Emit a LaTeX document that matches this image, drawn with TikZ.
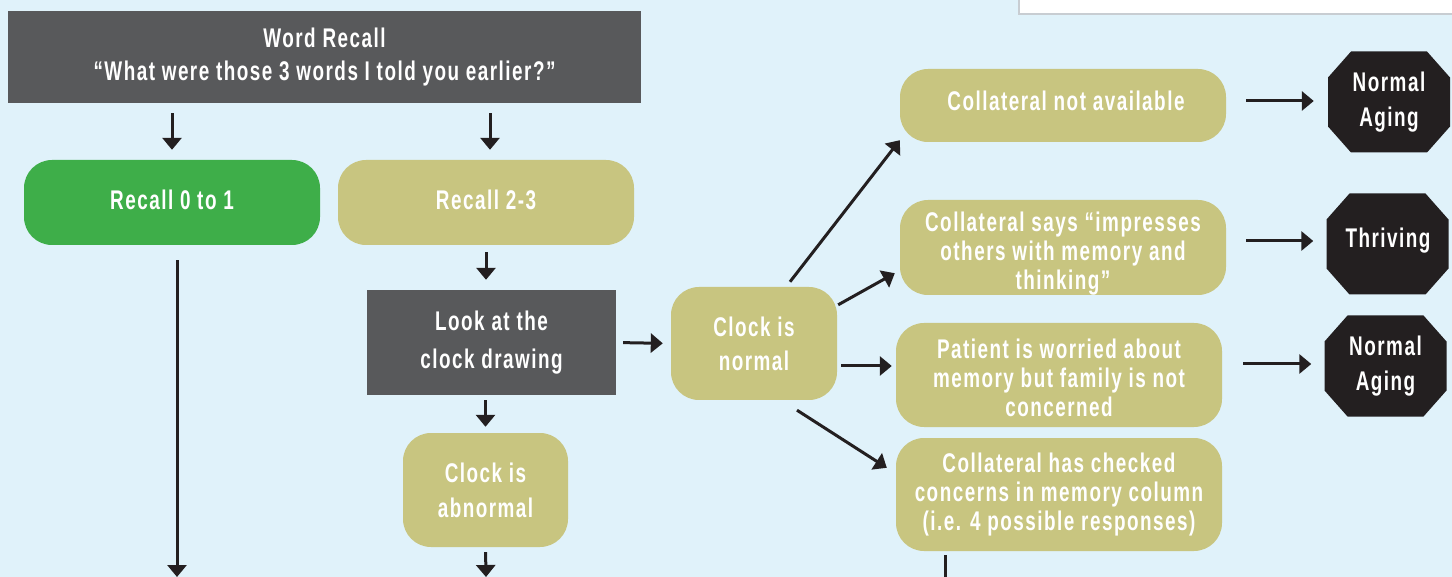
\documentclass[tikz,border=0pt]{standalone}
\usepackage{fontspec}
\setmainfont{Liberation Sans}[FakeStretch=0.7,LetterSpace=5.5]
\usetikzlibrary{arrows.meta,calc}
\definecolor{bgc}{HTML}{E0F2FA}
\definecolor{darkc}{HTML}{58595B}
\definecolor{greenc}{HTML}{3EAE49}
\definecolor{khakic}{HTML}{C8C580}
\definecolor{blackc}{HTML}{231F20}
\definecolor{framec}{HTML}{C8CDD2}
\begin{document}
\begin{tikzpicture}[x=1pt,y=-1pt,
  box/.style={text=white,font=\bfseries\fontsize{27}{29}\selectfont,align=center,inner sep=0pt},
  darkbox/.style={box,fill=darkc},
  greenbox/.style={box,fill=greenc,rounded corners=28pt},
  khakibox/.style={box,fill=khakic,rounded corners=28pt},
  octo/.style={box,font=\bfseries\fontsize{27}{35}\selectfont,minimum width=122pt,minimum height=101pt,
    path picture={\fill[blackc]
      ([xshift=23pt]path picture bounding box.north west) --
      ([xshift=-23pt]path picture bounding box.north east) --
      ([yshift=-26pt]path picture bounding box.north east) --
      ([yshift=26pt]path picture bounding box.south east) --
      ([xshift=-23pt]path picture bounding box.south east) --
      ([xshift=23pt]path picture bounding box.south west) --
      ([yshift=26pt]path picture bounding box.south west) --
      ([yshift=-26pt]path picture bounding box.north west) -- cycle;}},
  arr/.style={draw=blackc,line width=3pt,-{Triangle[width=19pt,length=12pt]}},
  plain/.style={draw=blackc,line width=3pt}
]
\useasboundingbox (0,0) rectangle (1452,577);
\fill[bgc] (0,0) rectangle (1452,577);
\filldraw[fill=white,draw=framec,line width=1.2pt] (1019,-3) rectangle (1455,14);

% left column
\node[darkbox,minimum width=633pt,minimum height=92pt,font=\bfseries\fontsize{27}{33}\selectfont] (wr) at (324.5,57)
  {Word Recall\\“What were those 3 words I told you earlier?”};
\node[greenbox,minimum width=296pt,minimum height=85pt] (r01) at (172,202.5) {};
\node[box] (r01t) at (172,199.5) {Recall 0 to 1};
\node[khakibox,minimum width=296pt,minimum height=85pt] (r23) at (486,202.5) {};
\node[box] (r23t) at (486,199.5) {Recall 2-3};
\node[darkbox,minimum width=249pt,minimum height=105pt,font=\bfseries\fontsize{27}{38}\selectfont] (look) at (491.5,342.5)
  {Look at the\\clock drawing};
\node[khakibox,minimum width=166pt,minimum height=113pt,font=\bfseries\fontsize{27}{34}\selectfont] (cn) at (754,343.5)
  {Clock is\\normal};
\node[khakibox,minimum width=165pt,minimum height=114pt,font=\bfseries\fontsize{27}{35}\selectfont] (ca) at (485.5,490)
  {Clock is\\abnormal};

% right column
\node[khakibox,minimum width=326pt,minimum height=73pt] (c1) at (1063,105.5) {};
\node[box] (c1t) at (1066,101) {Collateral not available};
\node[khakibox,minimum width=326pt,minimum height=95pt] (c2) at (1063,247.5) {};
\node[box] (c2t) at (1063,254)
  {Collateral says “impresses\\others with memory and\\thinking”};
\node[khakibox,minimum width=326pt,minimum height=104pt] (c3) at (1059,375) {};
\node[box] (c3t) at (1059,378)
  {Patient is worried about\\memory but family is not\\concerned};
\node[khakibox,minimum width=326pt,minimum height=113pt] (c4) at (1059,494.5)
  {Collateral has checked\\concerns in memory column\\(i.e. 4 possible responses)};

\node[octo] (o1) at (1389,102) {Normal\\Aging};
\node[octo] (o2) at (1387.5,244) {};
\node[box] (o2t) at (1388,241) {Thriving};
\node[octo] (o3) at (1385.5,366) {Normal\\Aging};

\coordinate (b1) at (177,577);
\coordinate (b2) at (486,577);
\coordinate (b3) at (945,577);

% connectors
\draw[arr,shorten <=10pt,shorten >=10pt] (wr.south -| r01) -- (r01.north);
\draw[arr,shorten <=10pt,shorten >=10pt] ([xshift=4pt]wr.south -| r23) -- ([xshift=4pt]r23.north);
\draw[arr,shorten <=15pt] (r01.south -| b1) -- (b1);
\draw[arr,shorten <=7pt,shorten >=10pt] (r23.south) -- (r23.south |- look.north);
\draw[arr,shorten <=7pt,shorten >=8pt] (look.east) -- (cn.west);
\draw[arr,shorten <=5pt,shorten >=6pt] (look.south -| ca) -- (ca.north);
\draw[arr,shorten <=5pt] (ca.south) -- (b2);
\draw[arr] ($(cn.north)+(36,-5)$) -- ($(c1.south west)+(0,-2)$);
\draw[arr] ($(cn.north east)+(1,18)$) -- ($(c2.south west)+(-5,-22)$);
\draw[arr,shorten <=4pt,shorten >=4pt] ([yshift=-22.5pt]cn.east) -- ([yshift=-22.5pt]cn.east -| c3.west);
\draw[arr] ($(cn.south)+(43,10)$) -- ($(c4.north west)+(-9,30)$);
\draw[plain,shorten <=4pt] (c4.south -| b3) -- (b3);
\draw[arr,shorten <=20pt,shorten >=14pt] ([yshift=4.5pt]c1.east) -- ([yshift=4.5pt]c1.east -| o1.west);
\draw[arr,shorten <=20pt,shorten >=13pt] ([yshift=6.5pt]c2.east) -- ([yshift=6.5pt]c2.east -| o2.west);
\draw[arr,shorten <=21pt,shorten >=13pt] ([yshift=11pt]c3.east) -- ([yshift=11pt]c3.east -| o3.west);
\end{tikzpicture}
\end{document}
